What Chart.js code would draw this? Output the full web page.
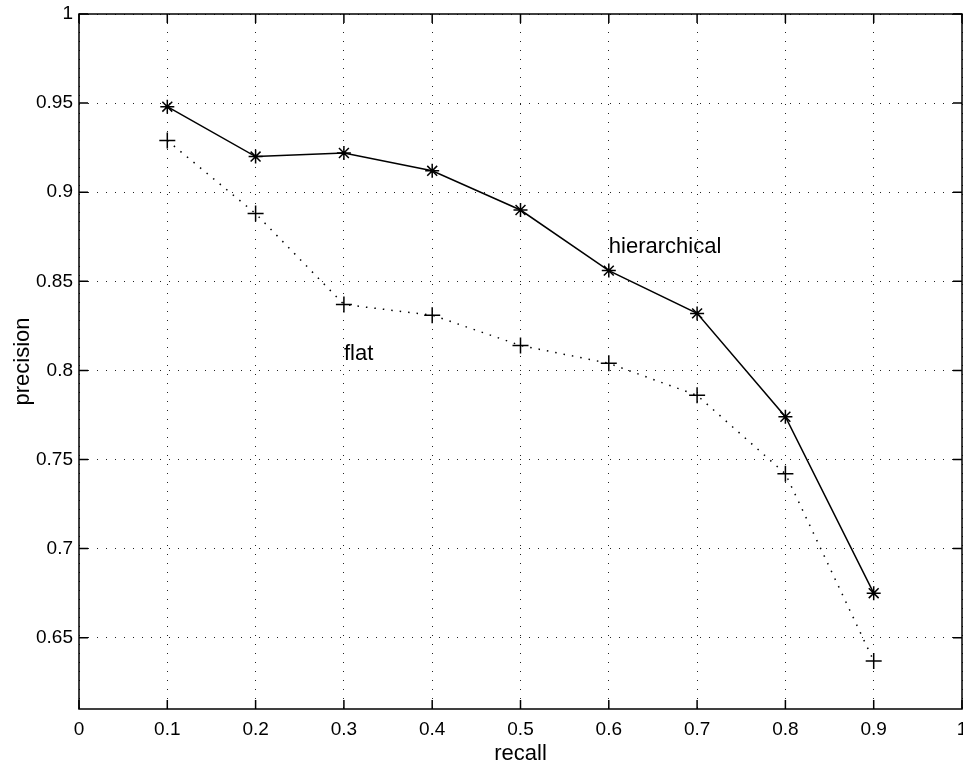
<!DOCTYPE html>
<html>
<head>
<meta charset="utf-8">
<script src="https://cdn.jsdelivr.net/npm/chart.js@4/dist/chart.umd.min.js"></script>
<style>
  html, body { margin: 0; padding: 0; background: #fff; overflow: hidden; }
</style>
</head>
<body>
<canvas id="chart" width="963" height="762"></canvas>
<script>
// recall levels and precision for both runs
const recall = [0.1, 0.2, 0.3, 0.4, 0.5, 0.6, 0.7, 0.8, 0.9];
const hierarchical = [0.948, 0.920, 0.922, 0.912, 0.890, 0.856, 0.832, 0.774, 0.675];
const flat = [0.929, 0.888, 0.837, 0.831, 0.814, 0.804, 0.786, 0.742, 0.637];

const xTicks = [0, 0.1, 0.2, 0.3, 0.4, 0.5, 0.6, 0.7, 0.8, 0.9, 1];
const xTickLabels = ['0', '0.1', '0.2', '0.3', '0.4', '0.5', '0.6', '0.7', '0.8', '0.9', '1'];
const yTicks = [0.65, 0.7, 0.75, 0.8, 0.85, 0.9, 0.95, 1];
const yTickLabels = ['0.65', '0.7', '0.75', '0.8', '0.85', '0.9', '0.95', '1'];

// text labels placed in data coordinates (like matlab text())
const textLabels = ['hierarchical', 'flat'];
const textX = [0.6, 0.3];
const textY = [0.8695, 0.8095];

const FONT = '"Liberation Sans", Arial, Helvetica, sans-serif';

const toXY = (xs, ys) => xs.map((x, i) => ({ x: x, y: ys[i] }));

// box round the plot + inward tick marks + the two text labels
const framePlugin = {
  id: 'frame',
  afterDatasetsDraw(chart) {
    const { ctx, chartArea: a, scales } = chart;
    ctx.save();
    ctx.strokeStyle = '#000';
    ctx.lineWidth = 1.5;
    ctx.strokeRect(a.left, a.top, a.right - a.left, a.bottom - a.top);

    ctx.beginPath();
    const len = 9;
    scales.x.ticks.forEach(t => {
      const px = scales.x.getPixelForValue(t.value);
      ctx.moveTo(px, a.bottom); ctx.lineTo(px, a.bottom - len);
      ctx.moveTo(px, a.top); ctx.lineTo(px, a.top + len);
    });
    scales.y.ticks.forEach(t => {
      const py = scales.y.getPixelForValue(t.value);
      ctx.moveTo(a.left, py); ctx.lineTo(a.left + len, py);
      ctx.moveTo(a.right, py); ctx.lineTo(a.right - len, py);
    });
    ctx.stroke();

    ctx.fillStyle = '#000';
    ctx.font = '22px ' + FONT;
    ctx.textAlign = 'left';
    ctx.textBaseline = 'middle';
    textLabels.forEach((s, i) => {
      ctx.fillText(s, scales.x.getPixelForValue(textX[i]), scales.y.getPixelForValue(textY[i]));
    });
    ctx.restore();
  }
};

const ctx = document.getElementById('chart');

new Chart(ctx, {
  type: 'line',
  data: {
    datasets: [
      {
        label: 'hierarchical',
        data: toXY(recall, hierarchical),
        borderColor: '#000',
        backgroundColor: '#000',
        borderWidth: 1.5,
        pointStyle: 'star',
        pointRadius: 7,
        pointBorderWidth: 1.5,
        pointBorderColor: '#000',
        tension: 0
      },
      {
        label: 'flat',
        data: toXY(recall, flat),
        borderColor: '#000',
        backgroundColor: '#000',
        borderWidth: 1.5,
        borderDash: [1.5, 7],
        pointStyle: 'cross',
        pointRadius: 8,
        pointBorderWidth: 1.5,
        pointBorderColor: '#000',
        tension: 0
      }
    ]
  },
  options: {
    responsive: false,
    animation: false,
    layout: { autoPadding: false, padding: { left: 0, right: 1, top: 14, bottom: 0 } },
    plugins: {
      legend: { display: false },
      tooltip: { enabled: false }
    },
    scales: {
      x: {
        type: 'linear',
        min: 0,
        max: 1,
        afterBuildTicks(scale) { scale.ticks = xTicks.map(v => ({ value: v })); },
        afterFit(scale) { scale.height = 53; scale.paddingLeft = 0; scale.paddingRight = 0; },
        ticks: {
          color: '#000',
          font: { family: FONT, size: 19 },
          padding: 9,
          maxRotation: 0,
          autoSkip: false,
          callback: (v, i) => xTickLabels[i]
        },
        grid: { color: '#222', lineWidth: 1, drawTicks: false },
        border: { display: false, dash: [1, 8] },
        title: {
          display: true,
          text: 'recall',
          color: '#000',
          font: { family: FONT, size: 22, lineHeight: 1 },
          padding: { top: 0, bottom: -3 }
        }
      },
      y: {
        type: 'linear',
        min: 0.61,
        max: 1,
        afterBuildTicks(scale) { scale.ticks = yTicks.map(v => ({ value: v })); },
        afterFit(scale) { scale.width = 79; scale.paddingTop = 0; scale.paddingBottom = 0; },
        ticks: {
          color: '#000',
          font: { family: FONT, size: 19 },
          padding: 6,
          autoSkip: false,
          callback: (v, i) => yTickLabels[i]
        },
        grid: { color: '#222', lineWidth: 1, drawTicks: false },
        border: { display: false, dash: [1, 8] },
        title: {
          display: true,
          text: 'precision',
          color: '#000',
          font: { family: FONT, size: 22, lineHeight: 1.2 },
          padding: { top: 10, bottom: 0 }
        }
      }
    }
  },
  plugins: [framePlugin]
});
</script>
</body>
</html>
